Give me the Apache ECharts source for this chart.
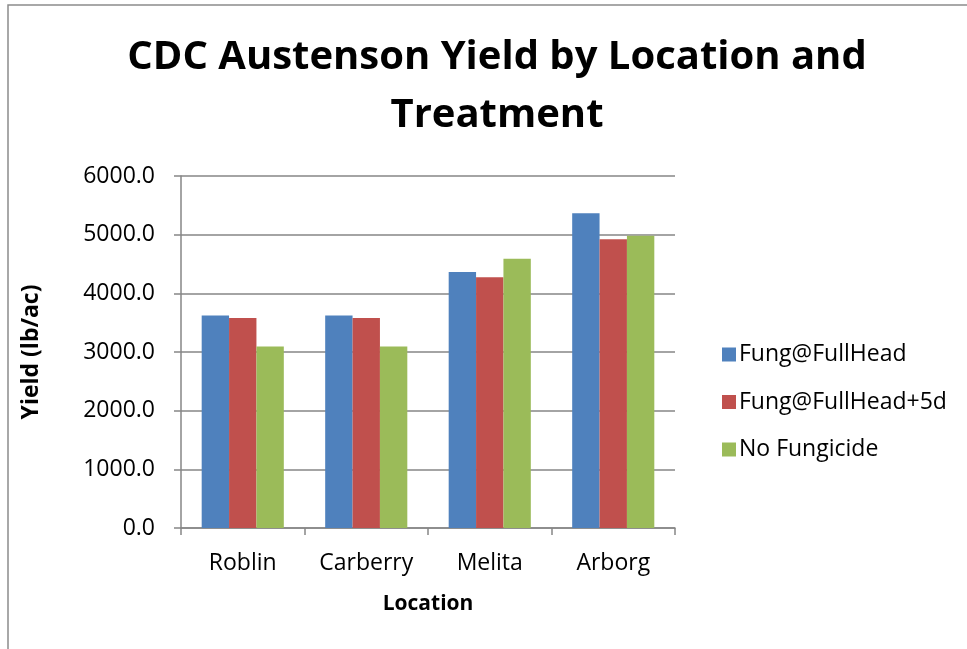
<!DOCTYPE html>
<html>
<head>
<meta charset="utf-8">
<script src="https://cdn.jsdelivr.net/npm/echarts@6/dist/echarts.min.js"></script>
<style>
  html, body { margin: 0; padding: 0; background: #fff; }
  #chart { width: 967px; height: 649px; }
</style>
</head>
<body>
<div id="chart"></div>
<script>
// data
var locations = ['Roblin', 'Carberry', 'Melita', 'Arborg'];
var seriesNames = ['Fung@FullHead', 'Fung@FullHead+5d', 'No Fungicide'];
var fungFullHead = [3624, 3624, 4363, 5365];
var fungFullHead5d = [3578, 3578, 4273, 4921];
var noFungicide = [3095, 3095, 4590, 4980];
var colors = ['#4F81BD', '#C0504D', '#9BBB59'];

var font = 'Open Sans';
var myChart = echarts.init(document.getElementById('chart'));

var allValues = [fungFullHead, fungFullHead5d, noFungicide];
var series = [];
for (var i = 0; i < seriesNames.length; i++) {
    series.push({
        name: seriesNames[i],
        type: 'bar',
        data: allValues[i],
        barGap: '0%',
        barCategoryGap: '33.5%',
        itemStyle: { color: colors[i] }
    });
}

var option = {
    backgroundColor: '#fff',
    animation: false,
    graphic: [{
        type: 'rect',
        shape: { x: 8, y: 5, width: 1000, height: 700 },
        style: { fill: 'none', stroke: '#8c8c8c', lineWidth: 1.5 },
        silent: true
    }],
    title: {
        text: 'CDC Austenson Yield by Location and\nTreatment',
        left: 492,
        textAlign: 'center',
        top: 24,
        textStyle: {
            fontFamily: font,
            fontWeight: 'bold',
            fontSize: 40,
            lineHeight: 58,
            color: '#000'
        }
    },
    legend: {
        orient: 'vertical',
        left: 717,
        top: 338,
        itemWidth: 14,
        itemHeight: 14,
        itemGap: 24.5,
        icon: 'rect',
        textStyle: { fontFamily: font, fontSize: 23, lineHeight: 23, color: '#000', padding: [0, 0, 0, -2] },
        data: seriesNames
    },
    grid: { left: 181, right: 292, top: 176, bottom: 121 },
    xAxis: {
        type: 'category',
        data: locations,
        name: 'Location',
        nameLocation: 'middle',
        nameGap: 66,
        nameTextStyle: { fontFamily: font, fontWeight: 'bold', fontSize: 21, color: '#000' },
        axisLine: { lineStyle: { color: '#868686', width: 1.5 } },
        axisTick: { show: true, length: 7, lineStyle: { color: '#868686', width: 1.5 } },
        axisLabel: { fontFamily: font, fontSize: 23, color: '#000', margin: 24 }
    },
    yAxis: {
        type: 'value',
        min: 0,
        max: 6000,
        interval: 1000,
        name: 'Yield (lb/ac)',
        nameLocation: 'middle',
        nameGap: 138,
        nameTextStyle: { fontFamily: font, fontWeight: 'bold', fontSize: 23, color: '#000' },
        axisLine: { show: true, lineStyle: { color: '#868686', width: 1.5 } },
        axisTick: { show: true, length: 7, lineStyle: { color: '#868686', width: 1.5 } },
        axisLabel: {
            fontFamily: font, fontSize: 23, color: '#000', margin: 26,
            formatter: function (v) { return v.toFixed(1); }
        },
        splitLine: { lineStyle: { color: '#868686', width: 1.5 } }
    },
    series: series
};
myChart.setOption(option);
</script>
</body>
</html>
